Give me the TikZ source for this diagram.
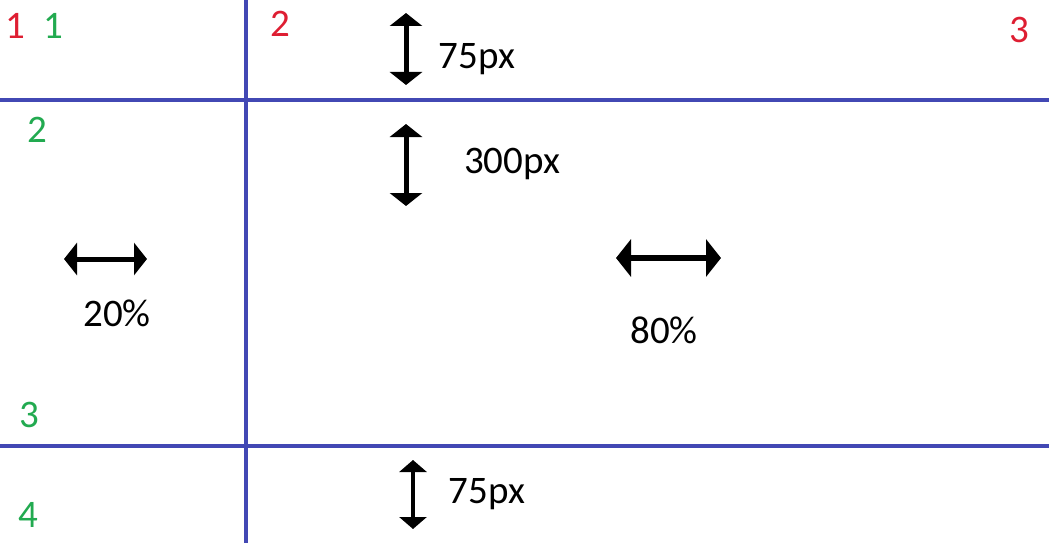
\documentclass[tikz,border=0pt]{standalone}
\usepackage{fontspec}
\setmainfont{Carlito}
\usetikzlibrary{arrows.meta}
\definecolor{gridblue}{RGB}{66,72,180}
\definecolor{numred}{RGB}{222,30,50}
\definecolor{numgreen}{RGB}{34,170,80}
\tikzset{
  gridline/.style={draw=gridblue, line width=3.2pt},
  lbl/.style={anchor=base, inner sep=0pt, font=\fontsize{39}{46}\selectfont},
  redlbl/.style={lbl, text=numred},
  greenlbl/.style={lbl, text=numgreen},
  dimarrow/.style={line width=5pt, {Triangle[length=13pt,width=32pt]}-{Triangle[length=13pt,width=32pt]}},
  dimarrowsmall/.style={line width=4.5pt, {Triangle[length=12pt,width=27pt]}-{Triangle[length=12pt,width=27pt]}},
  dimarrowbig/.style={line width=5.5pt, {Triangle[length=15pt,width=37pt]}-{Triangle[length=15pt,width=37pt]}}
}
\begin{document}
\begin{tikzpicture}[x=1pt,y=-1pt]
\useasboundingbox (0,0) rectangle (1049,543);
% grid lines
\coordinate (hl1) at (0,100);
\coordinate (hr1) at (1049,100);
\coordinate (hl2) at (0,446);
\coordinate (hr2) at (1049,446);
\coordinate (vt) at (246,0);
\coordinate (vb) at (246,543);
\draw[gridline] (hl1) -- (hr1);
\draw[gridline] (hl2) -- (hr2);
\draw[gridline] (vt) -- (vb);
% numbers
\node[redlbl] (r1) at (15,38) {1};
\node[greenlbl] (g1) at (53,38) {1};
\node[redlbl] (r2) at (280,37) {2};
\node[redlbl] (r3) at (1019,43) {3};
\node[greenlbl] (g2) at (37,142) {2};
\node[greenlbl] (g3) at (29,427) {3};
\node[greenlbl] (g4) at (28,527) {4};
% labels
\node[lbl] (t75) at (477,68) {75px};
\node[lbl] (t300) at (512,173) {300px};
\node[lbl] (b75) at (487,503) {75px};
\node[lbl] (p20) at (117,326) {20\%};
\node[lbl] (p80) at (664,343) {80\%};
% arrows
\coordinate (a1s) at (406,13);
\coordinate (a1e) at (406,85);
\coordinate (a2s) at (406,124);
\coordinate (a2e) at (406,206);
\coordinate (a3s) at (413,460);
\coordinate (a3e) at (413,529);
\coordinate (a4s) at (64,259);
\coordinate (a4e) at (147,259);
\coordinate (a5s) at (616,258);
\coordinate (a5e) at (721,258);
\draw[dimarrow] (a1s) -- (a1e);
\draw[dimarrow] (a2s) -- (a2e);
\draw[dimarrowsmall] (a3s) -- (a3e);
\draw[dimarrow] (a4s) -- (a4e);
\draw[dimarrowbig] (a5s) -- (a5e);
\end{tikzpicture}
\end{document}
